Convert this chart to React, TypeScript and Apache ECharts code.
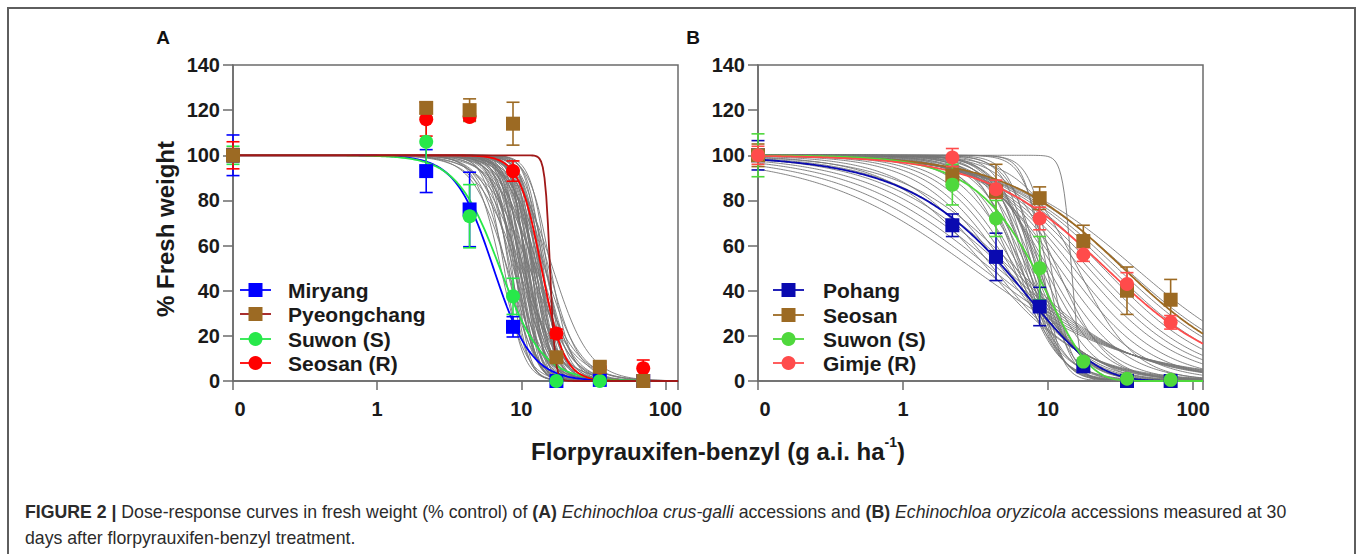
import React, { useEffect, useRef } from "react";
import * as echarts from "echarts";

// ---------- data ----------
const DOSES = [0, 2.1875, 4.375, 8.75, 17.5, 35, 70]; // g a.i. ha-1 ; 0 is drawn at the "0" position
const ZERO_POS = 0.1;
const X_TICK_LABELS = ["0", "1", "10", "100"];

// Panel A (Echinochloa crus-galli)
const miryangMean = [100, 93, 76, 24, 0, 0.5, 0];
const miryangErr = [9, 9.5, 16.5, 4.5, 0.5, 0.5, 0];
const pyeongMean = [100, 121, 120, 114, 10.5, 6.3, 0];
const pyeongErr = [3, 2.5, 5, 9.5, 1.5, 1.5, 0];
const suwonAMean = [100, 106, 73, 37.5, 0, 0, 0];
const suwonAErr = [4, 11, 14, 8, 0, 0, 0];
const seosanRMean = [100, 116, 117, 93, 21, 6, 5.6];
const seosanRErr = [6, 7.5, 1.5, 4.5, 2, 2.5, 3.7];

// Panel B (Echinochloa oryzicola)
const pohangMean = [100, 69, 55, 33, 6.5, 0, 0];
const pohangErr = [6.5, 5, 10.5, 8.5, 1, 0.5, 0.5];
const seosanBMean = [100, 91, 84, 81, 62, 40, 36];
const seosanBErr = [5, 4, 12, 5, 7, 10.5, 9];
const suwonBMean = [100, 87, 72, 50, 8.6, 1, 0.5];
const suwonBErr = [9.5, 9, 8, 14, 1.5, 0.5, 0.5];
const gimjeMean = [100, 99, 85, 72, 56, 43, 26];
const gimjeErr = [4, 4, 4, 5, 3, 5, 3];

// fitted dose-response curves (LL: log-logistic, W1: Weibull-1), upper 100, lower 0
const miryangFit = { model: "LL", b: 3.3, e: 6.4 };
const pyeongFit = { model: "LL", b: 25, e: 15.8 };
const suwonAFit = { model: "LL", b: 2.9, e: 7.1 };
const seosanRFit = { model: "LL", b: 5.6, e: 13.8 };
const pohangFit = { model: "W1", b: 0.92, e: 7.4 };
const seosanBFit = { model: "LL", b: 1.05, e: 33 };
const suwonBFit = { model: "W1", b: 1.52, e: 10.2 };
const gimjeFit = { model: "LL", b: 1.05, e: 25 };

// other accessions (grey fitted curves)
const grayA_ED50 = [7.2, 7.6, 7.9, 8.2, 8.4, 8.6, 8.8, 9.0, 9.1, 9.3, 9.4, 9.6, 9.8, 9.9, 10.1, 10.2, 10.4, 10.5, 10.7, 10.9, 11.0, 11.2, 11.3, 11.5, 11.7, 11.8, 12.0, 12.2, 12.3, 12.5, 12.7, 12.9, 13.1, 13.3, 13.5, 13.7, 14.0, 14.2, 14.5, 14.8, 15.1, 15.5, 16.0, 16.5, 9.5, 10.0, 11.4, 12.6, 13.0, 8.0, 10.6, 11.9, 12.1, 9.7, 8.9, 10.3, 11.1, 12.4, 13.4, 14.6, 9.2, 10.8];
const grayA_slope = [5, 6.5, 4.5, 7, 5.5, 8, 4, 6, 9, 5, 7.5, 4.2, 6.5, 8.5, 5.2, 7, 3.8, 6, 9, 4.8, 7.2, 5.6, 8.2, 4.4, 6.8, 9.5, 5, 7.4, 3.6, 6.2, 8.6, 4.6, 7, 5.4, 9, 4, 6.4, 8, 3.5, 5.8, 7.6, 4.2, 6, 3.4, 3, 3.2, 2.8, 3, 4, 3.6, 10, 11, 6.6, 7.8, 5.8, 4.6, 6.2, 5.2, 7.2, 4.8, 6.8, 8.8];
const grayB_ED50 = [3.0, 3.5, 4.0, 4.5, 5.0, 5.5, 6.0, 3.8, 4.2, 4.8, 5.2, 5.6, 6.0, 6.4, 6.8, 7.2, 7.6, 8.0, 8.4, 6.2, 6.6, 7.0, 7.4, 7.8, 8.2, 8.6, 9.0, 9.5, 10.0, 5.8, 6.5, 7.3, 8.8, 9.8, 11, 12, 13.5, 15, 17, 19, 21, 24, 27, 30, 34, 14.5, 10.5, 11.5, 9.2, 16, 40];
const grayB_slope = [0.8, 0.85, 0.9, 0.95, 1.0, 1.05, 1.1, 1.3, 1.4, 1.5, 1.6, 1.7, 1.8, 2.0, 2.2, 2.4, 2.6, 2.8, 3.0, 3.2, 3.5, 3.8, 4.2, 4.6, 5.0, 3.0, 2.5, 2.2, 2.0, 2.6, 2.9, 3.4, 4.0, 5.5, 1.8, 1.6, 1.5, 1.4, 1.3, 1.25, 1.2, 1.15, 1.1, 1.05, 1.0, 14, 6, 2.5, 7, 2.2, 0.95];

const legendA = ["Miryang", "Pyeongchang", "Suwon (S)", "Seosan (R)"];
const legendB = ["Pohang", "Seosan", "Suwon (S)", "Gimje (R)"];

// ---------- styling ----------
const FONT = "'Liberation Sans', Arial, Helvetica, sans-serif";
const AXIS_COLOR = "#6b6b6b";
const GRAY_CURVE = "#777777";
const X_MAX_A = 122;
const X_MAX_B = 117;

const COL = {
  miryang: "#0000ff",
  pyeongMarker: "#9c6a23",
  pyeongLine: "#a01818",
  suwonA: "#27e84a",
  seosanR: "#ff0000",
  pohang: "#0a0ab0",
  seosanB: "#9c6a23",
  suwonB: "#4fd83c",
  gimje: "#ff4b4b",
};

function respond(fit: { model: string; b: number; e: number }, x: number) {
  const r = Math.pow(x / fit.e, fit.b);
  if (fit.model === "W1") return 100 * Math.exp(-r);
  return 100 / (1 + r);
}

function curvePoints(fit: { model: string; b: number; e: number }, xMax: number) {
  const pts: number[][] = [];
  const n = 260;
  const l0 = Math.log10(ZERO_POS);
  const l1 = Math.log10(xMax);
  for (let i = 0; i <= n; i++) {
    const x = Math.pow(10, l0 + ((l1 - l0) * i) / n);
    pts.push([x, respond(fit, x)]);
  }
  return pts;
}

function doseX(d: number) {
  return d === 0 ? ZERO_POS : d;
}

function pointData(mean: number[]) {
  return mean.map((m, i) => [doseX(DOSES[i]), m]);
}

function errData(mean: number[], err: number[]) {
  return mean
    .map((m, i) => [doseX(DOSES[i]), m, m - err[i], m + err[i], err[i]])
    .filter((d) => d[4] > 0.3);
}

function curveSeries(fit: any, xMax: number, color: string, gi: number, width = 1.8, z = 3) {
  return {
    type: "line",
    xAxisIndex: gi,
    yAxisIndex: gi,
    data: curvePoints(fit, xMax),
    showSymbol: false,
    symbol: "none",
    lineStyle: { color, width },
    z,
    silent: true,
  };
}

function errSeries(mean: number[], err: number[], color: string, gi: number) {
  return {
    type: "custom",
    xAxisIndex: gi,
    yAxisIndex: gi,
    data: errData(mean, err),
    z: 4,
    silent: true,
    encode: { x: 0, y: [2, 3] },
    renderItem: (params: any, api: any) => {
      const x = api.value(0);
      const lo = Math.max(api.value(2), 0);
      const hi = api.value(3);
      const p1 = api.coord([x, lo]);
      const p2 = api.coord([x, hi]);
      const w = 6.5;
      const st = { stroke: color, lineWidth: 1.6 };
      return {
        type: "group",
        children: [
          { type: "line", shape: { x1: p1[0], y1: p1[1], x2: p2[0], y2: p2[1] }, style: st },
          { type: "line", shape: { x1: p1[0] - w, y1: p1[1], x2: p1[0] + w, y2: p1[1] }, style: st },
          { type: "line", shape: { x1: p2[0] - w, y1: p2[1], x2: p2[0] + w, y2: p2[1] }, style: st },
        ],
      };
    },
  };
}

function pointSeries(mean: number[], color: string, symbol: string, gi: number) {
  return {
    type: "scatter",
    xAxisIndex: gi,
    yAxisIndex: gi,
    data: pointData(mean),
    symbol,
    symbolSize: 14,
    itemStyle: { color, opacity: 1 },
    z: 5,
    silent: true,
  };
}

function xAxis(gi: number, xMax: number) {
  return {
    type: "log",
    logBase: 10,
    gridIndex: gi,
    min: ZERO_POS,
    max: xMax,
    axisLine: { show: true, lineStyle: { color: AXIS_COLOR, width: 1.5 } },
    axisTick: { show: true, length: 9, lineStyle: { color: AXIS_COLOR, width: 1.5 } },
    splitLine: { show: false },
    axisLabel: {
      margin: 18,
      color: "#1a1a1a",
      fontSize: 20,
      fontWeight: "bold",
      fontFamily: FONT,
      formatter: (v: number) => {
        const lg = Math.log10(v);
        const k = Math.round(lg);
        if (Math.abs(lg - k) > 0.01) return "";
        const t = X_TICK_LABELS[k + 1] ?? "";
        return k === -1 ? `{z|${t}}` : t;
      },
      rich: {
        z: { fontSize: 20, fontWeight: "bold", fontFamily: FONT, color: "#1a1a1a", padding: [0, 0, 0, 14] },
      },
    },
  };
}

function yAxis(gi: number) {
  return {
    type: "value",
    gridIndex: gi,
    min: 0,
    max: 140,
    interval: 20,
    axisLine: { show: true, lineStyle: { color: AXIS_COLOR, width: 1.5 } },
    axisTick: { show: true, length: 10, lineStyle: { color: AXIS_COLOR, width: 1.5 } },
    splitLine: { show: false },
    axisLabel: {
      margin: 13,
      color: "#1a1a1a",
      fontSize: 20,
      fontWeight: "bold",
      fontFamily: FONT,
    },
  };
}

function legendGraphics(
  names: string[],
  lineColors: string[],
  markerColors: string[],
  symbols: string[],
  x1: number,
  x2: number,
  textX: number,
  rows: number[]
) {
  const els: any[] = [];
  names.forEach((name, i) => {
    const y = rows[i];
    const mx = (x1 + x2) / 2;
    els.push({
      type: "line",
      shape: { x1, y1: y, x2, y2: y },
      style: { stroke: lineColors[i], lineWidth: 1.8 },
      silent: true,
      z: 10,
    });
    if (symbols[i] === "rect") {
      els.push({
        type: "rect",
        shape: { x: mx - 7, y: y - 7, width: 14, height: 14 },
        style: { fill: markerColors[i] },
        silent: true,
        z: 11,
      });
    } else {
      els.push({
        type: "circle",
        shape: { cx: mx, cy: y, r: 7 },
        style: { fill: markerColors[i] },
        silent: true,
        z: 11,
      });
    }
    els.push({
      type: "text",
      x: textX,
      y,
      style: {
        text: name,
        fill: "#1a1a1a",
        font: `bold 21px ${FONT}`,
        textAlign: "left",
        textVerticalAlign: "middle",
      },
      silent: true,
      z: 11,
    });
  });
  return els;
}

export default function App() {
  const ref = useRef<HTMLDivElement>(null);

  useEffect(() => {
    if (!ref.current) return;
    const chart = echarts.init(ref.current, null, { renderer: "svg" });

    const series: any[] = [];
    // grey curves
    grayA_ED50.forEach((e, i) => {
      series.push(curveSeries({ model: "LL", b: grayA_slope[i], e }, X_MAX_A, GRAY_CURVE, 0, 0.9, 1));
    });
    grayB_ED50.forEach((e, i) => {
      series.push(curveSeries({ model: "LL", b: grayB_slope[i], e }, X_MAX_B, GRAY_CURVE, 1, 0.9, 1));
    });
    // coloured curves
    series.push(curveSeries(miryangFit, X_MAX_A, COL.miryang, 0));
    series.push(curveSeries(suwonAFit, X_MAX_A, COL.suwonA, 0));
    series.push(curveSeries(seosanRFit, X_MAX_A, COL.seosanR, 0));
    series.push(curveSeries(pyeongFit, X_MAX_A, COL.pyeongLine, 0));
    series.push(curveSeries(pohangFit, X_MAX_B, COL.pohang, 1));
    series.push(curveSeries(seosanBFit, X_MAX_B, COL.seosanB, 1));
    series.push(curveSeries(suwonBFit, X_MAX_B, COL.suwonB, 1));
    series.push(curveSeries(gimjeFit, X_MAX_B, COL.gimje, 1));
    // error bars
    series.push(errSeries(miryangMean, miryangErr, COL.miryang, 0));
    series.push(errSeries(suwonAMean, suwonAErr, COL.suwonA, 0));
    series.push(errSeries(seosanRMean, seosanRErr, COL.seosanR, 0));
    series.push(errSeries(pyeongMean, pyeongErr, COL.pyeongMarker, 0));
    series.push(errSeries(pohangMean, pohangErr, COL.pohang, 1));
    series.push(errSeries(seosanBMean, seosanBErr, COL.seosanB, 1));
    series.push(errSeries(suwonBMean, suwonBErr, COL.suwonB, 1));
    series.push(errSeries(gimjeMean, gimjeErr, COL.gimje, 1));
    // points
    series.push(pointSeries(miryangMean, COL.miryang, "rect", 0));
    series.push(pointSeries(suwonAMean, COL.suwonA, "circle", 0));
    series.push(pointSeries(seosanRMean, COL.seosanR, "circle", 0));
    series.push(pointSeries(pyeongMean, COL.pyeongMarker, "rect", 0));
    series.push(pointSeries(pohangMean, COL.pohang, "rect", 1));
    series.push(pointSeries(seosanBMean, COL.seosanB, "rect", 1));
    series.push(pointSeries(suwonBMean, COL.suwonB, "circle", 1));
    series.push(pointSeries(gimjeMean, COL.gimje, "circle", 1));

    const CAP = 17.7;
    const graphic: any[] = [
      {
        type: "rect",
        shape: { x: 8, y: 8, width: 1347, height: 600 },
        style: { fill: "none", stroke: "#5e5e5e", lineWidth: 2 },
        silent: true,
        z: 0,
      },
      {
        type: "text",
        x: 163,
        y: 37,
        style: { text: "A", font: `bold 19px ${FONT}`, fill: "#111", textAlign: "center", textVerticalAlign: "middle" },
        silent: true,
      },
      {
        type: "text",
        x: 693,
        y: 37,
        style: { text: "B", font: `bold 19px ${FONT}`, fill: "#111", textAlign: "center", textVerticalAlign: "middle" },
        silent: true,
      },
      {
        type: "text",
        x: 165,
        y: 229,
        rotation: Math.PI / 2,
        style: {
          text: "% Fresh weight",
          font: `bold 24px ${FONT}`,
          fill: "#1a1a1a",
          textAlign: "center",
          textVerticalAlign: "middle",
        },
        silent: true,
      },
      {
        type: "text",
        x: 718,
        y: 449,
        style: {
          text: "{m|Florpyrauxifen-benzyl (g a.i. ha}{s|-1}{m|)}",
          textAlign: "center",
          textVerticalAlign: "middle",
          rich: {
            m: { fontSize: 24, fontWeight: "bold", fontFamily: FONT, fill: "#1a1a1a", lineHeight: 29, verticalAlign: "bottom" },
            s: { fontSize: 14, fontWeight: "bold", fontFamily: FONT, fill: "#1a1a1a", lineHeight: 29, verticalAlign: "top" },
          },
        },
        silent: true,
      },
      {
        type: "text",
        x: 25,
        y: 512,
        style: {
          text:
            "{b|FIGURE 2 |} Dose-response curves in fresh weight (% control) of {b|(A)} {i|Echinochloa crus-galli} accessions and {b|(B)} {i|Echinochloa oryzicola} accessions measured at 30",
          font: `${CAP}px ${FONT}`,
          fill: "#2b2b2b",
          textAlign: "left",
          textVerticalAlign: "middle",
          rich: {
            b: { fontSize: CAP, fontWeight: "bold", fontFamily: FONT, fill: "#2b2b2b" },
            i: { fontSize: CAP, fontStyle: "italic", fontFamily: FONT, fill: "#2b2b2b" },
          },
        },
        silent: true,
      },
      {
        type: "text",
        x: 25,
        y: 538,
        style: {
          text: "days after florpyrauxifen-benzyl treatment.",
          font: `${CAP}px ${FONT}`,
          fill: "#2b2b2b",
          textAlign: "left",
          textVerticalAlign: "middle",
        },
        silent: true,
      },
      ...legendGraphics(
        legendA,
        [COL.miryang, COL.pyeongLine, COL.suwonA, COL.seosanR],
        [COL.miryang, COL.pyeongMarker, COL.suwonA, COL.seosanR],
        ["rect", "rect", "circle", "circle"],
        240,
        271,
        288,
        [290, 314, 339, 363]
      ),
      ...legendGraphics(
        legendB,
        [COL.pohang, COL.seosanB, COL.suwonB, COL.gimje],
        [COL.pohang, COL.seosanB, COL.suwonB, COL.gimje],
        ["rect", "rect", "circle", "circle"],
        773,
        804,
        823,
        [290, 315, 339, 363]
      ),
    ];

    chart.setOption({
      animation: false,
      backgroundColor: "#ffffff",
      grid: [
        { left: 233, top: 65, width: 445, height: 316, show: true, borderColor: AXIS_COLOR, borderWidth: 1.5, backgroundColor: "transparent" },
        { left: 758, top: 65, width: 445, height: 316, show: true, borderColor: AXIS_COLOR, borderWidth: 1.5, backgroundColor: "transparent" },
      ],
      xAxis: [xAxis(0, X_MAX_A), xAxis(1, X_MAX_B)],
      yAxis: [yAxis(0), yAxis(1)],
      series,
      graphic,
    });

    return () => chart.dispose();
  }, []);

  return (
    <div
      ref={ref}
      style={{ position: "absolute", left: 0, top: 0, width: 1357, height: 554, background: "#fff" }}
    />
  );
}
